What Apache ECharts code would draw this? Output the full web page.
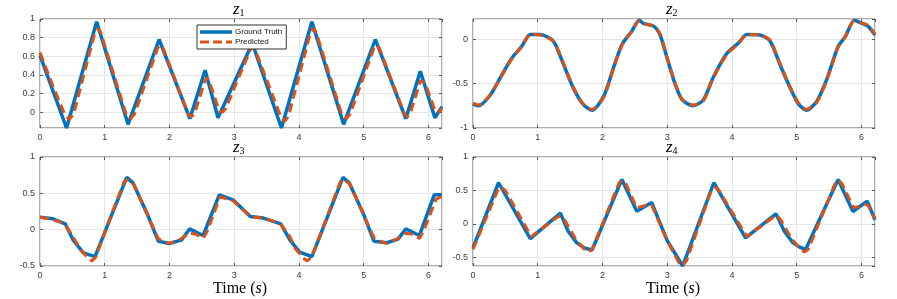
<!DOCTYPE html>
<html>
<head>
<meta charset="utf-8">
<script src="https://cdn.jsdelivr.net/npm/echarts@6/dist/echarts.min.js"></script>
<style>
html,body{margin:0;padding:0;background:#fff;}
#c{width:897px;height:299px;}
</style>
</head>
<body>
<div id="c"></div>
<script>
// ---------- data ----------
var seriesNames = ['Ground Truth', 'Predicted'];
var panelTitles = ['1', '2', '3', '4'];
var xTicks = [0, 1, 2, 3, 4, 5, 6];

// z1
var z1TruthT = [0, 0.41, 0.875, 1.36, 1.84, 2.315, 2.55, 2.75, 3.28, 3.73, 4.20, 4.69, 5.18, 5.65, 5.875, 6.10, 6.21];
var z1TruthV = [0.61, -0.17, 0.97, -0.13, 0.78, -0.07, 0.45, -0.06, 0.74, -0.17, 0.97, -0.13, 0.78, -0.07, 0.44, -0.06, 0.06];
var z1PredT = [0, 0.2, 0.38, 0.45, 0.52, 0.85, 0.89, 0.94, 1.33, 1.40, 1.46, 1.82, 1.86, 1.90, 2.29, 2.34, 2.39, 2.55, 2.58, 2.62, 2.77, 2.82, 2.87, 3.25, 3.29, 3.33, 3.72, 3.78, 3.84, 4.18, 4.22, 4.27, 4.66, 4.73, 4.79, 5.16, 5.20, 5.24, 5.63, 5.68, 5.72, 5.88, 5.91, 5.95, 6.10, 6.15, 6.21];
var z1PredV = [0.64, 0.28, -0.02, -0.08, -0.02, 0.86, 0.90, 0.85, -0.02, -0.07, -0.02, 0.69, 0.72, 0.69, -0.02, -0.05, -0.01, 0.34, 0.37, 0.32, 0.01, 0.00, 0.04, 0.67, 0.70, 0.66, -0.05, -0.10, -0.04, 0.86, 0.90, 0.85, -0.02, -0.07, -0.02, 0.69, 0.72, 0.69, -0.02, -0.05, -0.01, 0.34, 0.36, 0.31, 0.02, 0.00, 0.04];

// z2
var z2TruthT = [0, 0.087, 0.27, 0.42, 0.60, 0.755, 0.885, 1.04, 1.24, 1.37, 1.55, 1.71, 1.84, 2.02, 2.17, 2.30, 2.45, 2.57, 2.63, 2.79, 2.89, 2.99, 3.12, 3.23, 3.40, 3.56, 3.71, 3.92, 4.10, 4.23, 4.43, 4.59, 4.74, 4.87, 5.02, 5.15, 5.31, 5.46, 5.64, 5.75, 5.89, 5.98, 6.10, 6.21];
var z2TruthV = [-0.73, -0.75, -0.625, -0.435, -0.21, -0.076, 0.055, 0.055, -0.02, -0.23, -0.55, -0.74, -0.80, -0.64, -0.32, -0.06, 0.09, 0.215, 0.18, 0.15, 0.05, -0.19, -0.50, -0.68, -0.75, -0.68, -0.43, -0.16, -0.04, 0.055, 0.05, -0.02, -0.28, -0.50, -0.72, -0.80, -0.70, -0.46, -0.08, 0.03, 0.215, 0.19, 0.15, 0.05];
var z2PredT = [0, 0.087, 0.27, 0.42, 0.60, 0.755, 0.885, 1.04, 1.24, 1.37, 1.55, 1.71, 1.84, 2.02, 2.17, 2.30, 2.45, 2.57, 2.63, 2.79, 2.89, 2.99, 3.12, 3.23, 3.40, 3.56, 3.71, 3.92, 4.10, 4.23, 4.43, 4.59, 4.74, 4.87, 5.02, 5.15, 5.31, 5.46, 5.64, 5.75, 5.89, 5.98, 6.10, 6.21];
var z2PredV = [-0.72, -0.74, -0.62, -0.44, -0.22, -0.08, 0.06, 0.05, -0.02, -0.22, -0.54, -0.74, -0.79, -0.65, -0.33, -0.07, 0.09, 0.21, 0.18, 0.15, 0.06, -0.18, -0.49, -0.68, -0.74, -0.69, -0.44, -0.17, -0.05, 0.055, 0.05, -0.01, -0.27, -0.49, -0.71, -0.79, -0.71, -0.47, -0.09, 0.03, 0.21, 0.19, 0.16, 0.06];

// z3
var z3TruthT = [0, 0.2, 0.39, 0.51, 0.67, 0.85, 1.34, 1.44, 1.65, 1.83, 2.0, 2.19, 2.31, 2.52, 2.77, 2.98, 3.1, 3.25, 3.45, 3.72, 3.86, 4.01, 4.20, 4.68, 4.78, 4.99, 5.16, 5.36, 5.53, 5.65, 5.86, 6.09, 6.21];
var z3TruthV = [0.17, 0.15, 0.08, -0.14, -0.32, -0.37, 0.72, 0.64, 0.23, -0.16, -0.19, -0.14, 0.01, -0.08, 0.48, 0.41, 0.31, 0.18, 0.16, 0.08, -0.14, -0.31, -0.37, 0.72, 0.64, 0.23, -0.16, -0.18, -0.13, 0.01, -0.08, 0.48, 0.48];
var z3PredT = [0, 0.2, 0.38, 0.5, 0.62, 0.75, 0.8, 0.86, 1.1, 1.30, 1.36, 1.45, 1.65, 1.83, 2.0, 2.17, 2.3, 2.4, 2.52, 2.58, 2.78, 2.98, 3.25, 3.45, 3.7, 3.85, 3.95, 4.08, 4.13, 4.2, 4.64, 4.70, 4.79, 4.99, 5.17, 5.34, 5.51, 5.64, 5.74, 5.86, 5.92, 6.12, 6.21];
var z3PredV = [0.17, 0.14, 0.08, -0.08, -0.27, -0.40, -0.43, -0.38, 0.2, 0.66, 0.69, 0.62, 0.22, -0.13, -0.19, -0.13, -0.05, -0.06, -0.12, -0.03, 0.45, 0.40, 0.18, 0.16, 0.09, -0.08, -0.27, -0.40, -0.43, -0.37, 0.66, 0.69, 0.62, 0.22, -0.13, -0.19, -0.13, -0.05, -0.06, -0.12, -0.03, 0.42, 0.46];

// z4
var z4TruthT = [0, 0.395, 0.885, 1.35, 1.47, 1.6, 1.72, 1.84, 2.30, 2.53, 2.76, 3.0, 3.24, 3.72, 4.21, 4.68, 4.81, 4.94, 5.05, 5.14, 5.64, 5.87, 6.09, 6.21];
var z4TruthV = [-0.36, 0.615, -0.22, 0.16, -0.11, -0.28, -0.36, -0.39, 0.665, 0.19, 0.32, -0.25, -0.63, 0.615, -0.21, 0.15, -0.11, -0.28, -0.35, -0.38, 0.665, 0.185, 0.34, 0.06];
var z4PredT = [0, 0.2, 0.38, 0.43, 0.5, 0.9, 1.3, 1.36, 1.42, 1.58, 1.72, 1.78, 1.84, 2.26, 2.31, 2.36, 2.53, 2.72, 2.76, 3.0, 3.18, 3.23, 3.3, 3.68, 3.74, 3.8, 4.23, 4.64, 4.7, 4.76, 4.92, 5.06, 5.12, 5.18, 5.6, 5.65, 5.7, 5.88, 6.06, 6.1, 6.21];
var z4PredV = [-0.38, 0.08, 0.5, 0.55, 0.5, -0.19, 0.1, 0.12, 0.05, -0.22, -0.38, -0.42, -0.38, 0.62, 0.65, 0.6, 0.24, 0.29, 0.28, -0.25, -0.58, -0.63, -0.55, 0.5, 0.55, 0.5, -0.19, 0.1, 0.12, 0.05, -0.22, -0.38, -0.42, -0.38, 0.62, 0.65, 0.6, 0.24, 0.29, 0.28, 0.08];

// axis ranges
var xMin = 0, xMax = 6.21;
var yMins = [-0.17, -1, -0.5, -0.63];
var yMaxs = [1, 0.23, 1, 1];
var ySplit = [6, 2, 3, 3];

// ---------- chart ----------
function zip(t, v) { return t.map(function (x, i) { return [x, v[i]]; }); }

var truthSets = [[z1TruthT, z1TruthV], [z2TruthT, z2TruthV], [z3TruthT, z3TruthV], [z4TruthT, z4TruthV]];
var predSets = [[z1PredT, z1PredV], [z2PredT, z2PredV], [z3PredT, z3PredV], [z4PredT, z4PredV]];

var grids = [
  { left: 40, top: 19, width: 402, height: 109 },
  { left: 473, top: 19, width: 402, height: 109 },
  { left: 40, top: 157, width: 402, height: 109 },
  { left: 473, top: 157, width: 402, height: 109 }
];
var centers = [241, 674];

var BLUE = '#0072BD', ORANGE = '#D95319', BORDER = '#5a5a5a', LABEL = '#3a3a3a', GRIDC = '#e6e6e6';
var labelFont = 'Liberation Sans, Arial, sans-serif';
var serif = 'Liberation Serif, Times New Roman, serif';

function xAxisFor(i, mirror) {
  return {
    gridIndex: i, type: 'value', min: xMin, max: xMax, interval: 1,
    position: mirror ? 'top' : 'bottom',
    axisLine: { show: false, onZero: false },
    axisTick: { show: true, inside: true, length: 3, lineStyle: { color: BORDER } },
    axisLabel: mirror ? { show: false } : { color: LABEL, fontSize: 9, fontFamily: labelFont, margin: 5, showMaxLabel: false,
      formatter: function (v) { return xTicks.indexOf(v) >= 0 ? String(v) : ''; } },
    splitLine: { show: !mirror, lineStyle: { color: GRIDC, width: 1 } }
  };
}
function yAxisFor(i, mirror) {
  var ax = {
    gridIndex: i, type: 'value', min: yMins[i], max: yMaxs[i],
    position: mirror ? 'right' : 'left',
    axisLine: { show: false, onZero: false },
    axisTick: { show: true, inside: true, length: 3, lineStyle: { color: BORDER } },
    axisLabel: mirror ? { show: false } : { color: LABEL, fontSize: 9, fontFamily: labelFont, margin: 5,
      showMinLabel: (i !== 0 && i !== 3), showMaxLabel: i !== 1 },
    splitLine: { show: !mirror, lineStyle: { color: GRIDC, width: 1 } }
  };
  if (i === 1 || i === 2) { ax.interval = 0.5; } else { ax.splitNumber = ySplit[i]; }
  return ax;
}

var xAxes = [], yAxes = [];
for (var k = 0; k < 4; k++) { xAxes.push(xAxisFor(k, false)); yAxes.push(yAxisFor(k, false)); }
for (var k2 = 0; k2 < 4; k2++) { xAxes.push(xAxisFor(k2, true)); yAxes.push(yAxisFor(k2, true)); }

var option = {
  animation: false,
  backgroundColor: '#ffffff',
  grid: grids.map(function (g) {
    return Object.assign({ show: true, borderColor: BORDER, borderWidth: 1, backgroundColor: '#fff', containLabel: false }, g);
  }),
  xAxis: xAxes,
  yAxis: yAxes,
  legend: {
    show: true,
    data: [
      { name: seriesNames[0], icon: 'path://M0,0H32V3.5H0Z' },
      { name: seriesNames[1], icon: 'path://M0,0H9V3H0Z M13,0H22V3H13Z M26,0H32V3H26Z' }
    ],
    orient: 'vertical',
    left: 197, top: 25,
    itemWidth: 32, itemHeight: 3.5, itemGap: 2,
    padding: [3, 4, 3, 3],
    borderColor: '#333', borderWidth: 1, backgroundColor: '#fff', borderRadius: 0,
    textStyle: { fontSize: 8, fontFamily: labelFont, color: '#111', padding: [0, 0, 0, -2] }
  },
  series: [],
  graphic: []
};

for (var i = 0; i < 4; i++) {
  option.series.push({
    name: seriesNames[0], type: 'line', xAxisIndex: i, yAxisIndex: i,
    data: zip(truthSets[i][0], truthSets[i][1]),
    symbol: 'none', showSymbol: false, smooth: i === 1 ? 0.25 : false, clip: true,
    lineStyle: { color: BLUE, width: 3.5 }, itemStyle: { color: BLUE }, z: 2
  });
  option.series.push({
    name: seriesNames[1], type: 'line', xAxisIndex: i, yAxisIndex: i,
    data: zip(predSets[i][0], predSets[i][1]),
    symbol: 'none', showSymbol: false, smooth: i === 1 ? 0.25 : false, clip: true,
    lineStyle: { color: ORANGE, width: 3, type: [9, 5] }, itemStyle: { color: ORANGE }, z: 3
  });
  var cx = centers[i % 2];
  var ty = i < 2 ? 9 : 147;
  option.graphic.push({
    type: 'text', left: cx - 8, top: ty - 8,
    style: {
      text: '{z|z}{s|' + panelTitles[i] + '}',
      rich: {
        z: { fontFamily: serif, fontStyle: 'italic', fontSize: 17, fill: '#000', color: '#000' },
        s: { fontFamily: serif, fontSize: 10, fill: '#000', color: '#000', padding: [8, 0, 0, 0] }
      }
    }
  });
}
// x-axis captions
[0, 1].forEach(function (k) {
  option.graphic.push({
    type: 'text', left: centers[k] - 28, top: 281,
    style: {
      text: '{a|Time (}{b|s}{a|)}',
      rich: {
        a: { fontFamily: serif, fontSize: 16, color: '#000', fill: '#000' },
        b: { fontFamily: serif, fontStyle: 'italic', fontSize: 16, color: '#000', fill: '#000' }
      }
    }
  });
});

var chart = echarts.init(document.getElementById('c'), null, { renderer: 'canvas', width: 897, height: 299 });
chart.setOption(option);
</script>
</body>
</html>
